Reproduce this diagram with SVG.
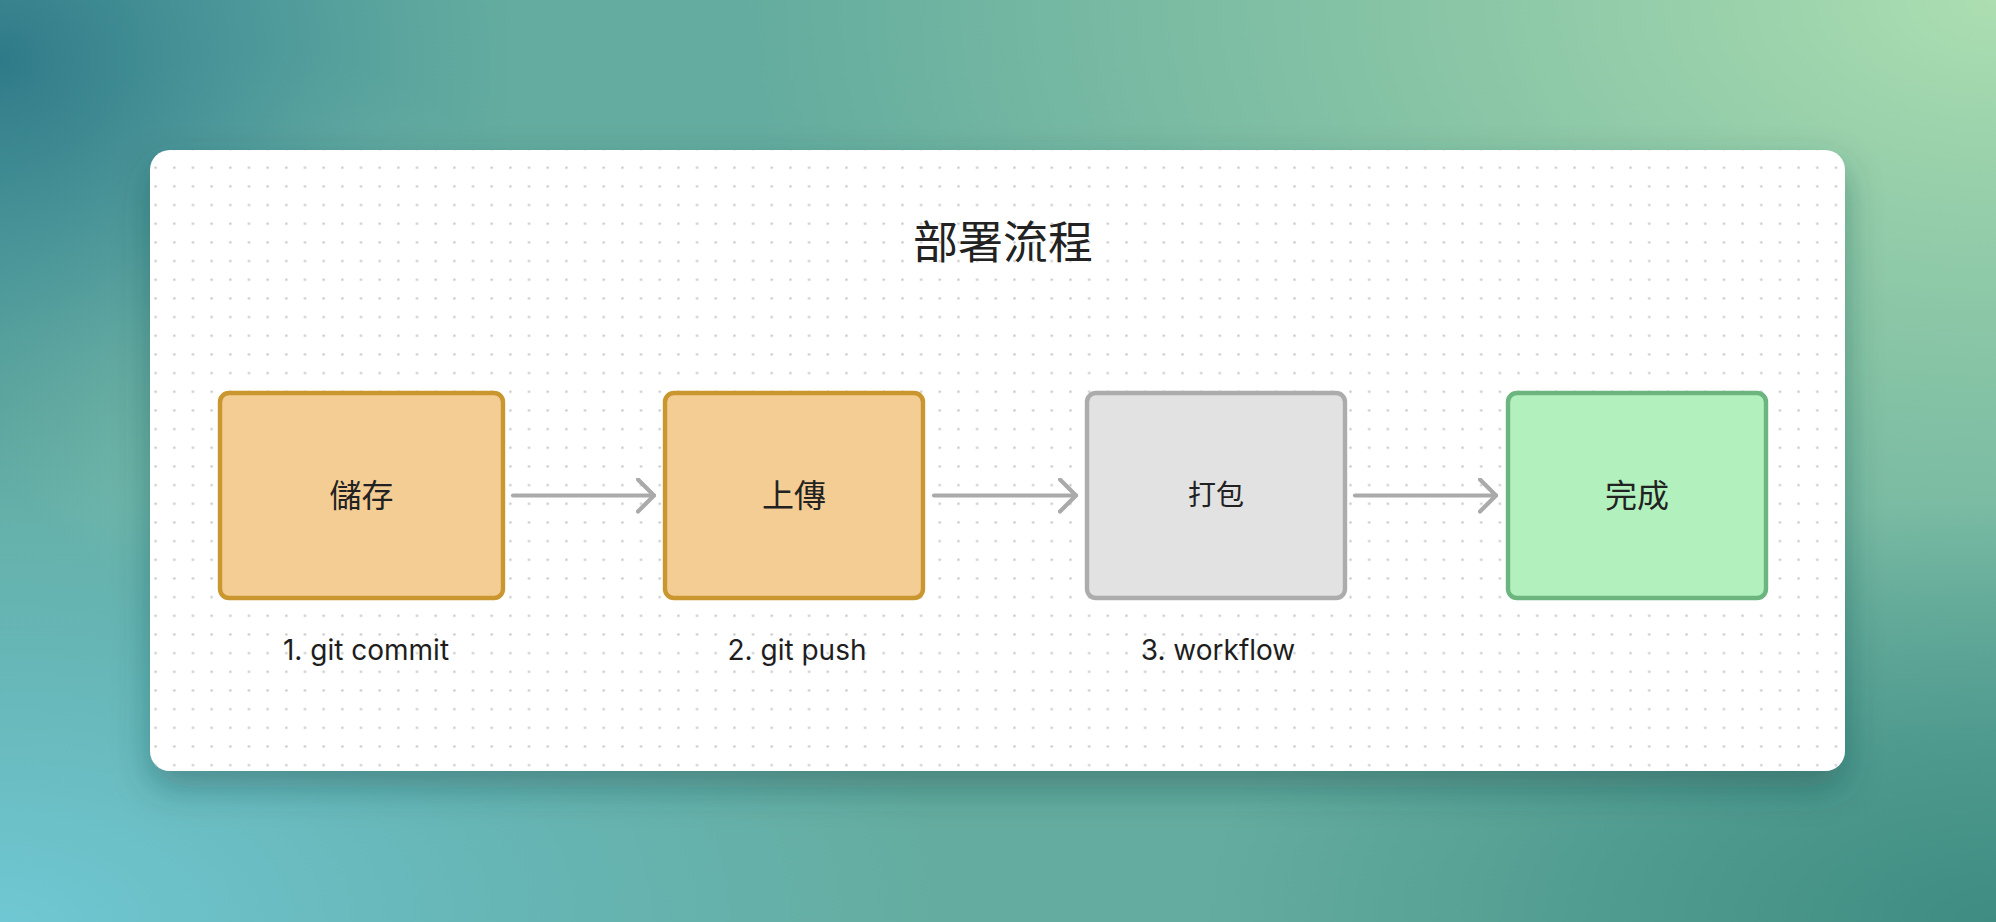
<svg xmlns="http://www.w3.org/2000/svg" width="1996" height="922" viewBox="0 0 1996 922">
  <defs>
    <radialGradient id="bgTR" gradientUnits="userSpaceOnUse" cx="0" cy="0" r="1" gradientTransform="translate(1996 0) scale(1250 760)">
      <stop offset="0" stop-color="#acdeb1" stop-opacity="1"/>
      <stop offset="0.5" stop-color="#94cda8" stop-opacity="0.7"/>
      <stop offset="1" stop-color="#94cda8" stop-opacity="0"/>
    </radialGradient>
    <radialGradient id="bgBL" gradientUnits="userSpaceOnUse" cx="0" cy="0" r="1" gradientTransform="translate(0 922) scale(950 520)">
      <stop offset="0" stop-color="#70c8d4" stop-opacity="1"/>
      <stop offset="0.55" stop-color="#68bcc4" stop-opacity="0.6"/>
      <stop offset="1" stop-color="#68bcc4" stop-opacity="0"/>
    </radialGradient>
    <radialGradient id="bgTL" gradientUnits="userSpaceOnUse" cx="0" cy="0" r="1" gradientTransform="translate(0 60) scale(520 460)">
      <stop offset="0" stop-color="#2f7a88" stop-opacity="1"/>
      <stop offset="0.5" stop-color="#3d8b96" stop-opacity="0.6"/>
      <stop offset="1" stop-color="#4a98a0" stop-opacity="0"/>
    </radialGradient>
    <radialGradient id="bgBR" gradientUnits="userSpaceOnUse" cx="0" cy="0" r="1" gradientTransform="translate(1996 922) scale(800 420)">
      <stop offset="0" stop-color="#3e8c82" stop-opacity="1"/>
      <stop offset="1" stop-color="#3e8c82" stop-opacity="0"/>
    </radialGradient>
    <radialGradient id="bgGlow" gradientUnits="userSpaceOnUse" cx="0" cy="0" r="1" gradientTransform="translate(260 330) scale(300 280)">
      <stop offset="0" stop-color="#a2d6b6" stop-opacity="0.5"/>
      <stop offset="1" stop-color="#a2d6b6" stop-opacity="0"/>
    </radialGradient>
    <pattern id="dots" patternUnits="userSpaceOnUse" x="146.3" y="139.7" width="18.67" height="18.67">
      <circle cx="9.33" cy="9.33" r="1.25" fill="#c8c8c8"/>
    </pattern>
    <filter id="shadow" x="-10%" y="-10%" width="120%" height="135%">
      <feDropShadow dx="0" dy="16" stdDeviation="18" flood-color="#1b4644" flood-opacity="0.4"/>
    </filter>
    <marker id="chev" viewBox="0 0 20 36" refX="18" refY="18" markerWidth="20" markerHeight="36" markerUnits="userSpaceOnUse" orient="auto">
      <path d="M2 2 L18 18 L2 34" fill="none" stroke="#aaaaaa" stroke-width="4.2" stroke-linecap="round" stroke-linejoin="round"/>
    </marker>
  </defs>
  <style>
    .node rect { stroke-width: 4.4; }
    .orange rect { fill: #f3cd93; stroke: #c9962f; }
    .gray rect { fill: #e2e2e2; stroke: #acacac; }
    .green rect { fill: #b2f0bd; stroke: #6cb57f; }
    .ntext { font-family: "Noto Sans CJK TC", "Noto Sans CJK SC", sans-serif; fill: #222222; text-anchor: middle; }
    .label { font-family: Inter, "Liberation Sans", sans-serif; font-size: 28px; fill: #1e1e1e; text-anchor: middle; }
    .conn { stroke: #aaaaaa; stroke-width: 4.2; stroke-linecap: round; fill: none; }
  </style>

  <!-- background -->
  <rect width="1996" height="922" fill="#64ac9f"/>
  <rect width="1996" height="922" fill="url(#bgTR)"/>
  <rect width="1996" height="922" fill="url(#bgBL)"/>
  <rect width="1996" height="922" fill="url(#bgGlow)"/>
  <rect width="1996" height="922" fill="url(#bgTL)"/>
  <rect width="1996" height="922" fill="url(#bgBR)"/>

  <!-- card -->
  <rect x="150" y="150" width="1695" height="621" rx="20" fill="#ffffff" filter="url(#shadow)"/>
  <rect x="150" y="150" width="1695" height="621" rx="20" fill="url(#dots)"/>

  <text x="1003" y="259" class="ntext" font-size="45">部署流程</text>

  <g id="connectors">
    <path class="conn" d="M513 495.5 H654" marker-end="url(#chev)"/>
    <path class="conn" d="M934 495.5 H1076" marker-end="url(#chev)"/>
    <path class="conn" d="M1355 495.5 H1496" marker-end="url(#chev)"/>
  </g>

  <g id="node-save" class="node orange">
    <rect x="220" y="393" width="283" height="205" rx="9"/>
    <text x="361.5" y="507" class="ntext" font-size="32">儲存</text>
  </g>
  <g id="node-upload" class="node orange">
    <rect x="665" y="393" width="258" height="205" rx="9"/>
    <text x="794" y="507" class="ntext" font-size="32">上傳</text>
  </g>
  <g id="node-pack" class="node gray">
    <rect x="1087" y="393" width="258" height="205" rx="9"/>
    <text x="1216" y="505" class="ntext" font-size="28">打包</text>
  </g>
  <g id="node-done" class="node green">
    <rect x="1508" y="393" width="258" height="205" rx="9"/>
    <text x="1637" y="507" class="ntext" font-size="32">完成</text>
  </g>

  <g id="labels">
    <text x="366" y="660" class="label">1. git commit</text>
    <text x="797" y="660" class="label">2. git push</text>
    <text x="1218" y="660" class="label">3. workflow</text>
  </g>
</svg>
